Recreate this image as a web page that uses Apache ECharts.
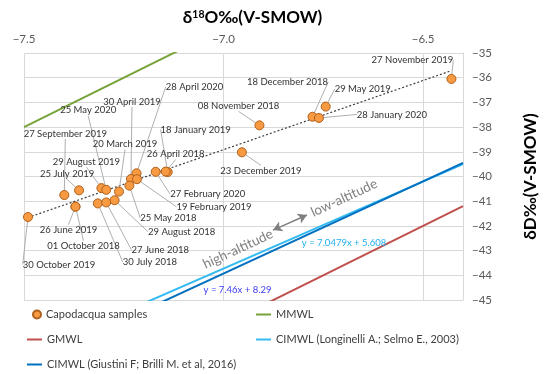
<!DOCTYPE html>
<html><head><meta charset="utf-8">
<script src="https://cdn.jsdelivr.net/npm/echarts@6/dist/echarts.min.js"></script>
<style>html,body{margin:0;padding:0;background:#fff}#c{width:550px;height:374px}</style>
</head><body><div id="c"></div>
<script>
// ---- data ----
const sampleDates = ['27 November 2019','29 May 2019','18 December 2018','28 January 2020','08 November 2018','23 December 2019','18 January 2019','26 April 2018','27 February 2020','28 April 2020','30 April 2019','19 February 2019','25 May 2018','20 March 2019','29 August 2019','25 May 2020','25 July 2019','27 September 2019','26 June 2019','01 October 2018','30 October 2019','30 July 2018','27 June 2018','29 August 2018'];
const sampleD18O = [-6.429,-6.744,-6.777,-6.761,-6.910,-6.954,-7.140,-7.145,-7.170,-7.218,-7.232,-7.217,-7.236,-7.262,-7.306,-7.294,-7.362,-7.399,-7.371,-7.371,-7.490,-7.315,-7.294,-7.273];
const sampleDD   = [-36.05,-37.17,-37.58,-37.63,-37.93,-39.02,-39.82,-39.80,-39.81,-39.87,-40.10,-40.11,-40.37,-40.61,-40.47,-40.54,-40.56,-40.75,-41.22,-41.22,-41.64,-41.09,-41.05,-40.96];

const trendX = [-7.49, -6.43];
const trendY = [-41.66, -35.72];
const mmwlX = [-7.5, -6.4],  mmwlY = [-38.0, -29.2];
const gmwlX = [-7.5, -6.4],  gmwlY = [-50.0, -41.2];
const longX = [-7.5, -6.4],  longY = [-47.25, -39.50];
const giusX = [-7.5, -6.4],  giusY = [-47.66, -39.45];

const xTickLabels = [-7.5, -7.0, -6.5];
const yTickLabels = [-35,-36,-37,-38,-39,-40,-41,-42,-43,-44,-45];

// ---- layout (pixel offsets of each date label centre from its point) ----
const labelOffsets = [[-39,-18],[37,-17],[-25,-34],[73,-3],[-21,-19],[19,19],[28,-42],[10,-17],[52,23],[58,-86],[1,-77],[77,28],[39,33],[6,-47],[-15,-26],[-18,-79],[-12,-16],[1,-61],[-7,24],[8,40],[31,48],[52,59],[54,48],[67,32]];

const FONT = 'Lato, "Open Sans", sans-serif';
const LBL_SIZE = 9.5, LBL_LH = 11, SYM = 9;
const pair = (xs, ys) => xs.map((x, i) => [x, ys[i]]);
const fmtMinus = (v, d) => (v < 0 ? '\u2212' : '') + Math.abs(v).toFixed(d);

const chart = echarts.init(document.getElementById('c'));

const lineIcon = 'rect';
const legendText = { fontSize: 11, color: '#404040', fontFamily: FONT };
const option = {
  backgroundColor: '#fff',
  animation: false,
  textStyle: { fontFamily: FONT },
  grid: { left: 24, right: 87, top: 53, bottom: 74, containLabel: false },
  xAxis: {
    type: 'value', position: 'top', min: -7.5, max: -6.4, interval: 0.5,
    name: '{d|\u03B4}{s|18}{d|O\u2030(V-SMOW)}',
    nameLocation: 'middle', nameGap: 27,
    nameTextStyle: { padding: [0, 0, 0, 18], rich: {
      d: { fontSize: 17, fontWeight: 'bold', color: '#000', fontFamily: FONT },
      s: { fontSize: 10.5, fontWeight: 'bold', color: '#000', verticalAlign: 'top', fontFamily: FONT }
    }},
    axisLine: { show: true, lineStyle: { color: '#D9D9D9' } },
    axisTick: { show: false },
    axisLabel: { color: '#595959', fontSize: 11.5, fontFamily: FONT, margin: 8, showMaxLabel: false,
      formatter: v => xTickLabels.some(t => Math.abs(t - v) < 1e-6) ? fmtMinus(v, 1) : '' },
    splitLine: { show: true, lineStyle: { color: '#D9D9D9', width: 1 } }
  },
  yAxis: {
    type: 'value', position: 'right', min: -45, max: -35, interval: 1,
    name: '\u03B4D\u2030(V-SMOW)', nameLocation: 'middle', nameGap: 59, nameRotate: 90,
    nameTextStyle: { fontSize: 17, fontWeight: 'bold', color: '#000', fontFamily: FONT },
    axisLine: { show: true, lineStyle: { color: '#D9D9D9' } },
    axisTick: { show: false },
    axisLabel: { color: '#595959', fontSize: 11.5, fontFamily: FONT, margin: 9,
      formatter: v => yTickLabels.includes(Math.round(v)) ? fmtMinus(v, 0) : '' },
    splitLine: { show: true, lineStyle: { color: '#D9D9D9', width: 1 } }
  },
  legend: [
    { data: [{ name: 'Capodacqua samples', icon: 'circle' }], left: 27, top: 304, itemWidth: 8, itemHeight: 8,
      textStyle: legendText, selectedMode: false },
    { data: [{ name: 'MMWL', icon: lineIcon }], left: 251, top: 304, itemWidth: 15, itemHeight: 2,
      textStyle: legendText, selectedMode: false },
    { data: [{ name: 'GMWL', icon: lineIcon }], left: 22, top: 329, itemWidth: 15, itemHeight: 2,
      textStyle: legendText, selectedMode: false },
    { data: [{ name: 'CIMWL (Longinelli A.; Selmo E., 2003)', icon: lineIcon }], left: 251, top: 329, itemWidth: 15, itemHeight: 2,
      textStyle: legendText, selectedMode: false },
    { data: [{ name: 'CIMWL (Giustini F; Brilli M. et al, 2016)', icon: lineIcon }], left: 22, top: 354, itemWidth: 15, itemHeight: 2,
      textStyle: legendText, selectedMode: false }
  ],
  series: [
    { name: 'MMWL', type: 'line', data: pair(mmwlX, mmwlY), symbol: 'none', clip: true,
      lineStyle: { color: '#77A33A', width: 2 }, itemStyle: { color: '#77A33A' }, z: 2 },
    { name: 'GMWL', type: 'line', data: pair(gmwlX, gmwlY), symbol: 'none', clip: true,
      lineStyle: { color: '#C0504D', width: 2 }, itemStyle: { color: '#C0504D' }, z: 2 },
    { name: 'CIMWL (Longinelli A.; Selmo E., 2003)', type: 'line', data: pair(longX, longY), symbol: 'none', clip: true,
      lineStyle: { color: '#33BBF2', width: 2 }, itemStyle: { color: '#33BBF2' }, z: 2 },
    { name: 'CIMWL (Giustini F; Brilli M. et al, 2016)', type: 'line', data: pair(giusX, giusY), symbol: 'none', clip: true,
      lineStyle: { color: '#0070C0', width: 2 }, itemStyle: { color: '#0070C0' }, z: 2 },
    { name: 'trend', type: 'line', data: pair(trendX, trendY), symbol: 'none', silent: true,
      lineStyle: { color: '#404040', width: 1.2, type: [2, 2] }, z: 3,
      markLine: { silent: true, symbol: ['arrow', 'arrow'], symbolSize: [8, 9],
        lineStyle: { color: '#7F7F7F', width: 1.5, type: 'solid' }, label: { show: false },
        data: [[{ coord: [-6.876, -42.17] }, { coord: [-6.791, -41.56] }]] } },
    { name: 'Capodacqua samples', type: 'scatter', data: pair(sampleD18O, sampleDD),
      symbol: 'circle', symbolSize: SYM, z: 5,
      itemStyle: { color: '#F79A42', borderColor: '#B05F1A', borderWidth: 1, opacity: 1 },
      label: { show: true, position: 'top', distance: 0, color: '#333333', fontSize: LBL_SIZE, lineHeight: LBL_LH,
        fontFamily: FONT, formatter: p => sampleDates[p.dataIndex] },
      labelLine: { show: true, lineStyle: { color: '#A6A6A6', width: 0.9 } },
      labelLayout: p => ({ dx: labelOffsets[p.dataIndex][0],
                           dy: labelOffsets[p.dataIndex][1] + SYM / 2 + LBL_LH / 2 }) }
  ]
};
chart.setOption(option);

// annotation texts placed at data coordinates
const annotations = [
  { text: 'y = 7.0479x + 5.608', at: [-6.698, -42.68], color: '#1FAFEF', size: 9.5, rot: 0 },
  { text: 'y = 7.46x + 8.29', at: [-6.965, -44.60], color: '#3D3DF2', size: 9.5, rot: 0 },
  { text: 'high-altitude', at: [-6.964, -42.94], color: '#808080', size: 13.5, rot: 25 },
  { text: 'low-altitude', at: [-6.698, -40.87], color: '#808080', size: 13.5, rot: 25 }
];
chart.setOption({ graphic: annotations.map(a => {
  const p = chart.convertToPixel({ gridIndex: 0 }, a.at);
  return { type: 'text', x: p[0], y: p[1], rotation: a.rot * Math.PI / 180, z: 10,
    style: { text: a.text, fill: a.color, fontSize: a.size, fontFamily: FONT, align: 'center', verticalAlign: 'middle' } };
}) });
</script></body></html>
